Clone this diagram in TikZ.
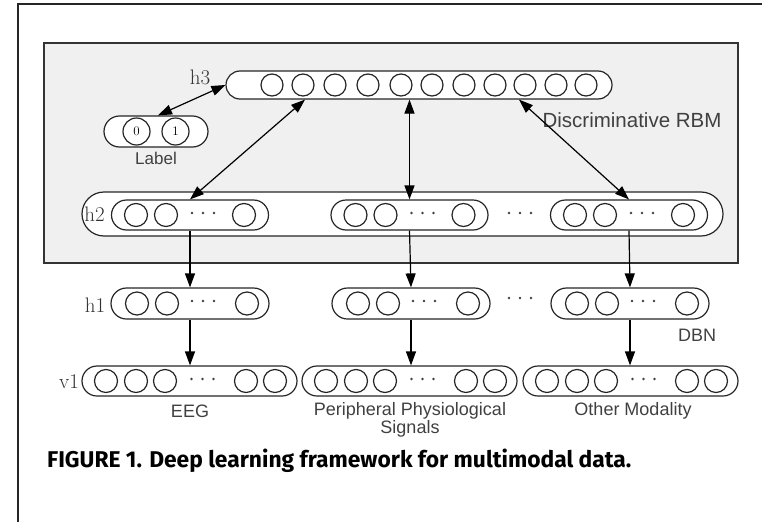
\documentclass[tikz,border=0pt]{standalone}
\usepackage{fontspec}
\newfontfamily\labelfont{Liberation Sans}
\newfontfamily\captionfont{Fira Sans}
\usetikzlibrary{arrows.meta,shapes.misc}
\begin{document}
\begin{tikzpicture}[x=1pt,y=-1pt,
  panel/.style={draw=black!80, line width=1.4pt, fill=black!6},
  capsule/.style={draw=black!85, line width=1.2pt, fill=white, rounded rectangle, inner sep=0pt, minimum height=30pt},
  unit/.style={draw=black!85, line width=1.2pt, fill=white, circle, inner sep=0pt, minimum size=23pt},
  dotmark/.style={fill=black!75, circle, inner sep=0pt, minimum size=2.8pt},
  link/.style={line width=1.2pt, {Triangle[length=14pt,width=10pt]}-{Triangle[length=14pt,width=10pt]}},
  feed/.style={line width=1.2pt, -{Triangle[length=14pt,width=10pt]}},
  lbl/.style={font=\labelfont\fontsize{18}{21}\selectfont, text=black!75, inner sep=0pt},
  layername/.style={font=\fontsize{21}{24}\selectfont, text=black!80, inner sep=0pt},
  digit/.style={font=\fontsize{13}{15}\selectfont, inner sep=0pt},
]
\useasboundingbox (0,0) rectangle (762,522);

% page frame
\draw[line width=1.2pt, black!85] (762,4) -- (18,4) -- (18,522);

% shaded panel holding the joint layers
\node[panel, minimum width=694pt, minimum height=220pt, inner sep=0pt] (panel) at (391,153) {};

% ---------- h3 : discriminative RBM ----------
\node[capsule, minimum width=386pt, minimum height=28pt] (h3) at (419,85) {};
\foreach \x [count=\i] in {272,303,335,368,401,432,464,495,525,556,586}
  \node[unit, minimum size=22pt] (h3u\i) at (\x,85) {};

% label units
\node[capsule, minimum width=104pt, minimum height=31pt] (lab) at (156,131.5) {};
\node[unit, minimum size=27pt] (lab0) at (136.5,131.5) {};
\node[unit, minimum size=27pt] (lab1) at (175.5,131.5) {};
\node[digit] (lab0t) at (lab0) {0};
\node[digit] (lab1t) at (lab1) {1};

\node[layername] (h3name) at (200,77) {h3};
\node[lbl, font=\labelfont\fontsize{17}{20}\selectfont] (labname) at (156,158) {Label};
\node[lbl, font=\labelfont\fontsize{20.5}{24}\selectfont] (rbmname) at (632,120) {Discriminative RBM};

% ---------- h2 : joint layer ----------
\node[capsule, minimum width=641pt, minimum height=44pt] (h2) at (402.5,214) {};
\node[layername] (h2name) at (94.5,214) {h2};
\foreach \k/\cx in {1/190, 2/409.5, 3/629}{
  \node[capsule, minimum width=157pt, minimum height=30pt] (h2c\k) at (\cx,215) {};
  \node[unit] (h2c\k a) at (\cx-54,215) {};
  \node[unit] (h2c\k b) at (\cx-24,215) {};
  \node[unit] (h2c\k z) at (\cx+54,215) {};
  \foreach \d [count=\j] in {-11,0,11}
    \node[dotmark] (h2c\k d\j) at (\cx+13+\d,213) {};
}
\foreach \d [count=\j] in {-11,0,11}
  \node[dotmark] (h2gap\j) at (520+\d,213) {};

% ---------- h1 : first hidden layers ----------
\node[layername] (h1name) at (95,305) {h1};
\foreach \k/\cx in {1/190, 2/411, 3/630}{
  \node[capsule, minimum width=158pt, minimum height=31pt] (h1c\k) at (\cx,303.5) {};
  \node[unit] (h1c\k a) at (\cx-53,303.5) {};
  \node[unit] (h1c\k b) at (\cx-23,303.5) {};
  \node[unit] (h1c\k z) at (\cx+57,303.5) {};
  \foreach \d [count=\j] in {-11,0,11}
    \node[dotmark] (h1c\k d\j) at (\cx+13+\d,301) {};
}
\foreach \d [count=\j] in {-11,0,11}
  \node[dotmark] (h1gap\j) at (520+\d,298) {};
\node[lbl] (dbnname) at (697,335) {DBN};

% ---------- v1 : visible layers ----------
\node[layername] (v1name) at (69,382) {v1};
\foreach \k/\cx in {1/189.5, 2/409.5, 3/630.5}{
  \node[capsule, minimum width=215pt, minimum height=30pt] (v1c\k) at (\cx,381) {};
  \node[unit] (v1c\k a) at (\cx-83.5,381) {};
  \node[unit] (v1c\k b) at (\cx-53.5,381) {};
  \node[unit] (v1c\k c) at (\cx-24.5,381) {};
  \node[unit] (v1c\k y) at (\cx+56.5,381) {};
  \node[unit] (v1c\k z) at (\cx+85.5,381) {};
  \foreach \d [count=\j] in {-11,0,11}
    \node[dotmark] (v1c\k d\j) at (\cx+13+\d,379) {};
}

\node[lbl] (eeg) at (190,411) {EEG};
\node[lbl, align=center, font=\labelfont\fontsize{18}{18.5}\selectfont] (pps) at (410,420) {Peripheral Physiological\\Signals};
\node[lbl] (other) at (633,411) {Other Modality};

% ---------- connections ----------
\draw[link] (h3.west) -- ([xshift=2pt]lab.north);
\draw[link] ([xshift=2pt]h3u2.south |- h3.south) -- (h2c1.north);
\draw[link] (h3.south -| h2c2.north) -- (h2c2.north);
\draw[link] ([xshift=279pt]h3.south west) -- (h2c3.north);

\foreach \k in {1,2,3}{
  \draw[feed] (h2c\k.south) -- (h1c\k.north);
  \draw[feed] (h1c\k.south) -- (h1c\k.south |- v1c\k.north);
}

% caption
\node[anchor=west, inner sep=0pt, font=\captionfont\bfseries\fontsize{22.8}{26}\selectfont] (caption) at (47,461)
  {FIGURE 1. Deep learning framework for multimodal data.};
\end{tikzpicture}
\end{document}
